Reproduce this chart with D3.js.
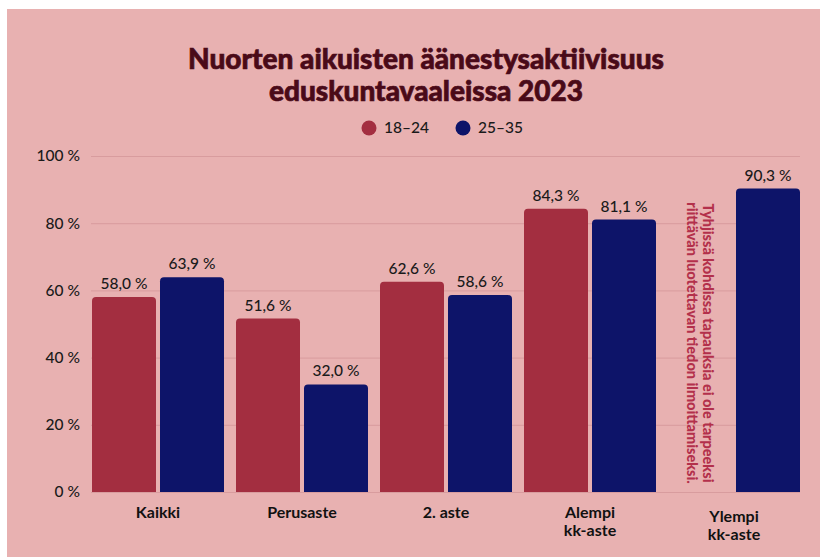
<!DOCTYPE html>
<html>
<head>
<meta charset="utf-8">
<script src="https://cdn.jsdelivr.net/npm/d3@7"></script>
<style>
  body { margin: 0; background: #fff; }
  svg { display: block; font-family: Lato, "Noto Sans", sans-serif; }
</style>
</head>
<body>
<svg id="chart" width="820" height="559"></svg>
<script>
const categories = ["Kaikki", "Perusaste", "2. aste", "Alempi\nkk-aste", "Ylempi\nkk-aste"];
const seriesNames = ["18–24", "25–35"];
const young = [58.0, 51.6, 62.6, 84.3, null];
const older = [63.9, 32.0, 58.6, 81.1, 90.3];
const yTicks = [0, 20, 40, 60, 80, 100];
const colors = ["#a32e40", "#0d1469"];

const svg = d3.select("#chart");

svg.append("rect")
  .attr("x", 7).attr("y", 9)
  .attr("width", 813).attr("height", 548)
  .attr("fill", "#e8b1b1");

// title
const title = svg.append("text")
  .attr("text-anchor", "middle")
  .attr("fill", "#4a0a18")
  .attr("stroke", "#4a0a18")
  .attr("stroke-width", 0.7)
  .style("font-size", "28px")
  .style("font-weight", 900);
title.append("tspan").attr("x", 426).attr("y", 69).text("Nuorten aikuisten äänestysaktiivisuus");
title.append("tspan").attr("x", 426).attr("y", 101).text("eduskuntavaaleissa 2023");

// legend
const legend = svg.append("g").selectAll("g")
  .data(seriesNames)
  .join("g")
  .attr("transform", (d, i) => `translate(${369 + i * 94},128)`);
legend.append("circle").attr("r", 7.5).attr("fill", (d, i) => colors[i]);
legend.append("text")
  .attr("x", 15).attr("dy", "0.35em")
  .attr("fill", "#1a1a1a")
  .style("font-size", "15.5px")
  .style("font-weight", 500)
  .text(d => d);

const y = d3.scaleLinear().domain([0, 100]).range([492, 156]);
const x0 = d3.scaleBand().domain(categories).range([86, 806]).paddingInner(1 / 12).paddingOuter(1 / 24);
const x1 = d3.scaleBand().domain(seriesNames).range([0, x0.bandwidth()]).paddingInner(4 / 68);

// y axis + grid
const yAxis = svg.append("g")
  .attr("transform", "translate(91,0)")
  .call(d3.axisLeft(y).tickValues(yTicks).tickSize(-709).tickFormat(d => d + " %").tickPadding(11));
yAxis.select(".domain").remove();
yAxis.selectAll(".tick line").attr("stroke", "#d89c9e").attr("stroke-width", 1);
yAxis.selectAll(".tick text")
  .attr("fill", "#1a1a1a")
  .style("font-size", "15.5px")
  .style("font-weight", 500)
  .style("font-family", "Lato, sans-serif");

// bars
const rows = categories.map((c, i) => ({ cat: c, vals: [young[i], older[i]] }));
const groups = svg.append("g").selectAll("g")
  .data(rows)
  .join("g")
  .attr("transform", d => `translate(${x0(d.cat)},0)`);

const cells = groups.selectAll("g")
  .data(d => d.vals.map((v, i) => ({ name: seriesNames[i], v, i })).filter(e => e.v != null))
  .join("g");

const r = 4;
cells.append("path")
  .attr("fill", d => d.i === 0 ? colors[0] : colors[1])
  .attr("d", d => {
    const bx = x1(d.name), bw = x1.bandwidth(), top = y(d.v), bot = y(0);
    return `M${bx},${bot}V${top + r}Q${bx},${top} ${bx + r},${top}H${bx + bw - r}Q${bx + bw},${top} ${bx + bw},${top + r}V${bot}Z`;
  });

cells.append("text")
  .attr("x", d => x1(d.name) + x1.bandwidth() / 2)
  .attr("y", d => y(d.v) - 8)
  .attr("text-anchor", "middle")
  .attr("fill", "#1a1a1a")
  .style("font-size", "15.5px")
  .style("font-weight", 500)
  .text(d => d3.format(".1f")(d.v).replace(".", ",") + " %");

// category labels
const catLabels = svg.append("g").selectAll("text")
  .data(categories)
  .join("text")
  .attr("text-anchor", "middle")
  .attr("fill", "#111")
  .style("font-size", "16px")
  .style("font-weight", 700)
  .attr("transform", (d, i) => `translate(${x0(d) + x0.bandwidth() / 2},${i === 4 ? 522 : 518})`);
catLabels.selectAll("tspan")
  .data(d => d.split("\n"))
  .join("tspan")
  .attr("x", 0)
  .attr("dy", (d, i) => i === 0 ? 0 : 18)
  .text(d => d);

// note for missing value
const note = svg.append("text")
  .attr("transform", `translate(${x0(categories[4]) + 35},343) rotate(90)`)
  .attr("text-anchor", "middle")
  .attr("fill", "#b3304b")
  .style("font-size", "14.5px")
  .style("font-weight", 900);
note.append("tspan").attr("x", 0).attr("y", 0).text("Tyhjissä kohdissa tapauksia ei ole tarpeeksi");
note.append("tspan").attr("x", 0).attr("y", 16).text("riittävän luotettavan tiedon ilmoittamiseksi.");
</script>
</body>
</html>
